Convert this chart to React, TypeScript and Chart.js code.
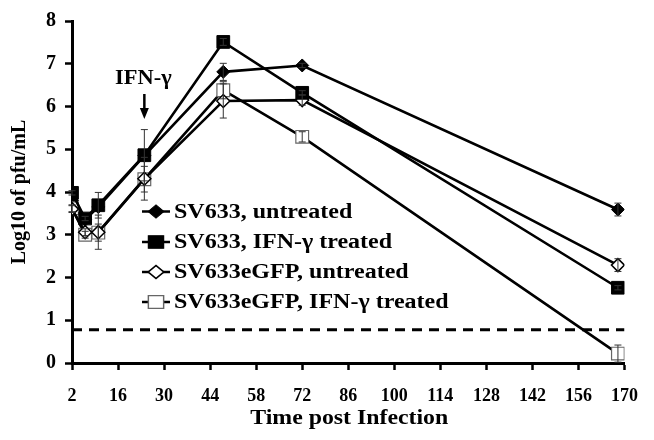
import React, { useEffect, useRef } from "react";
import { Chart, registerables } from "chart.js";

Chart.register(...registerables);

const times = [2, 6, 10, 24, 48, 72, 168];
const seriesNames = [
  "SV633, untreated",
  "SV633, IFN-\u03b3 treated",
  "SV633eGFP, untreated",
  "SV633eGFP, IFN-\u03b3 treated",
];
const sv633Untreated = [3.8, 3.35, 3.65, 4.85, 6.81, 6.96, 3.59];
const sv633Treated = [3.98, 3.38, 3.69, 4.86, 7.51, 6.32, 1.76];
const gfpUntreated = [3.6, 3.06, 3.06, 4.31, 6.13, 6.15, 2.29];
const gfpTreated = [3.62, 3.0, 3.05, 4.3, 6.38, 5.29, 0.22];
const errUntreated = [0, 0, 0, 0, 0.2, 0.05, 0.15];
const errTreated = [0.05, 0.05, 0.3, 0.6, 0.08, 0.05, 0.05];
const errGfpUntreated = [0.08, 0.08, 0.4, 0.5, 0.4, 0.12, 0.15];
const errGfpTreated = [0.08, 0.08, 0.2, 0.3, 0.2, 0.12, 0.2];
const detectionLimit = 0.78;
const xTicks = { min: 2, max: 170, step: 14 };
const yTicks = { min: 0, max: 8, step: 1 };
const annotationText = "IFN-\u03b3";
const annotationTime = 24;
const xTitle = "Time post Infection";
const yTitle = "Log10 of pfu/mL";

const FONT = "'Liberation Serif', 'Times New Roman', serif";

type Marker = { style: string; r: number; fill: string; stroke: string; lw: number };
const markers: Marker[] = [
  { style: "rectRot", r: 6.5, fill: "#000", stroke: "#000", lw: 1 },
  { style: "rect", r: 9, fill: "#000", stroke: "#000", lw: 1 },
  { style: "rectRot", r: 6.5, fill: "#fff", stroke: "#000", lw: 1.5 },
  { style: "rect", r: 9, fill: "#fff", stroke: "#666", lw: 1.2 },
];

function drawMarker(ctx: CanvasRenderingContext2D, m: Marker, x: number, y: number, sx = 1) {
  ctx.save();
  ctx.translate(x, y);
  ctx.scale(sx, 1);
  ctx.beginPath();
  if (m.style === "rect") {
    const s = m.r * Math.SQRT1_2;
    ctx.rect(-s, -s, 2 * s, 2 * s);
  } else {
    ctx.moveTo(-m.r, 0);
    ctx.lineTo(0, -m.r);
    ctx.lineTo(m.r, 0);
    ctx.lineTo(0, m.r);
    ctx.closePath();
  }
  ctx.fillStyle = m.fill;
  ctx.fill();
  ctx.lineWidth = m.lw;
  ctx.strokeStyle = m.stroke;
  ctx.stroke();
  ctx.restore();
}

function stretchedText(
  ctx: CanvasRenderingContext2D,
  text: string,
  x: number,
  y: number,
  sx: number,
  align: CanvasTextAlign
) {
  ctx.save();
  ctx.translate(x, y);
  ctx.scale(sx, 1);
  ctx.textAlign = align;
  ctx.fillText(text, 0, 0);
  ctx.restore();
}

const allValues = [sv633Untreated, sv633Treated, gfpUntreated, gfpTreated];
const allErrors = [errUntreated, errTreated, errGfpUntreated, errGfpTreated];
const drawOrder = [3, 0, 1, 2];

const extrasPlugin = {
  id: "extras",
  afterDatasetsDraw(chart: any) {
    const ctx: CanvasRenderingContext2D = chart.ctx;
    const xs = chart.scales.x;
    const ys = chart.scales.y;
    // error bars
    ctx.save();
    ctx.strokeStyle = "#333";
    ctx.lineWidth = 1;
    allValues.forEach((vals, si) => {
      vals.forEach((v, i) => {
        const e = allErrors[si][i];
        if (!e) return;
        const x = xs.getPixelForValue(times[i]);
        const y1 = ys.getPixelForValue(v + e);
        const y2 = ys.getPixelForValue(v - e);
        ctx.beginPath();
        ctx.moveTo(x, y1);
        ctx.lineTo(x, y2);
        ctx.moveTo(x - 3.5, y1);
        ctx.lineTo(x + 3.5, y1);
        ctx.moveTo(x - 3.5, y2);
        ctx.lineTo(x + 3.5, y2);
        ctx.stroke();
      });
    });
    ctx.restore();

    // annotation
    const ax = xs.getPixelForValue(annotationTime);
    ctx.save();
    ctx.fillStyle = "#000";
    ctx.strokeStyle = "#000";
    ctx.font = `bold 20px ${FONT}`;
    ctx.textBaseline = "middle";
    stretchedText(ctx, annotationText, ax - 1, 79, 1.12, "center");
    ctx.lineWidth = 2.5;
    ctx.beginPath();
    ctx.moveTo(ax, 94);
    ctx.lineTo(ax, 110);
    ctx.stroke();
    ctx.beginPath();
    ctx.moveTo(ax - 4.5, 108);
    ctx.lineTo(ax + 4.5, 108);
    ctx.lineTo(ax, 119);
    ctx.closePath();
    ctx.fill();
    ctx.restore();

    // legend
    const rows = [211.5, 242, 272, 302];
    ctx.save();
    ctx.font = `bold 20px ${FONT}`;
    ctx.textBaseline = "middle";
    seriesNames.forEach((name, i) => {
      const y = rows[i];
      ctx.strokeStyle = "#000";
      ctx.lineWidth = 2.5;
      ctx.beginPath();
      ctx.moveTo(142, y);
      ctx.lineTo(170, y);
      ctx.stroke();
      drawMarker(ctx, markers[i], 156, y, 1.2);
      ctx.fillStyle = "#000";
      stretchedText(ctx, name, 174, y + 1, 1.2, "left");
    });
    ctx.restore();

    // x-axis title
    ctx.save();
    ctx.fillStyle = "#000";
    ctx.font = `bold 20px ${FONT}`;
    ctx.textBaseline = "middle";
    const cx = (chart.chartArea.left + chart.chartArea.right) / 2;
    stretchedText(ctx, xTitle, cx + 1, 419, 1.19, "center");
    ctx.restore();
  },
};

export default function App() {
  const ref = useRef<HTMLCanvasElement | null>(null);
  useEffect(() => {
    if (!ref.current) return;
    const datasets: any[] = allValues.map((vals, i) => ({
      label: seriesNames[i],
      data: vals.map((v, j) => ({ x: times[j], y: v })),
      borderColor: "#000",
      borderWidth: 2.6,
      pointStyle: markers[i].style,
      pointRadius: markers[i].r,
      pointBackgroundColor: markers[i].fill,
      pointBorderColor: markers[i].stroke,
      pointBorderWidth: markers[i].lw,
      showLine: true,
      order: drawOrder[i],
    }));
    datasets.push({
      label: "limit",
      data: [
        { x: xTicks.min, y: detectionLimit },
        { x: xTicks.max, y: detectionLimit },
      ],
      borderColor: "#000",
      borderWidth: 3,
      borderDash: [10, 7],
      pointRadius: 0,
      showLine: true,
      order: 10,
    });
    const chart = new Chart(ref.current, {
      type: "scatter",
      data: { datasets },
      plugins: [extrasPlugin],
      options: {
        animation: false,
        responsive: false,
        devicePixelRatio: 1,
        layout: { padding: { top: 20, right: 21, left: 0, bottom: 0 } },
        plugins: { legend: { display: false }, tooltip: { enabled: false } },
        scales: {
          x: {
            type: "linear",
            min: xTicks.min,
            max: xTicks.max,
            afterFit: (s: any) => {
              s.height = 77;
            },
            ticks: {
              stepSize: xTicks.step,
              color: "#000",
              font: { family: FONT, size: 18, weight: "bold" },
              padding: 16,
              maxRotation: 0,
              autoSkip: false,
            },
            grid: {
              drawOnChartArea: false,
              drawTicks: true,
              tickLength: 7,
              tickWidth: 2.5,
              tickColor: "#000",
            },
            border: { display: true, color: "#000", width: 3 },
            title: { display: false },
          },
          y: {
            min: yTicks.min,
            max: yTicks.max,
            afterFit: (s: any) => {
              s.width = 72;
            },
            ticks: {
              stepSize: yTicks.step,
              color: "#000",
              font: { family: FONT, size: 20, weight: "bold" },
              padding: 9,
            },
            grid: {
              drawOnChartArea: false,
              drawTicks: true,
              tickLength: 7,
              tickWidth: 2.5,
              tickColor: "#000",
            },
            border: { display: true, color: "#000", width: 3 },
            title: {
              display: true,
              text: yTitle,
              color: "#000",
              font: { family: FONT, size: 20, weight: "bold" },
              padding: { top: 8, bottom: 0 },
            },
          },
        },
      },
    } as any);
    return () => chart.destroy();
  }, []);
  return (
    <div style={{ position: "fixed", left: 0, top: 0, width: 654, height: 440, background: "#fff" }}>
      <canvas ref={ref} width={654} height={440} style={{ width: 654, height: 440 }} />
    </div>
  );
}
